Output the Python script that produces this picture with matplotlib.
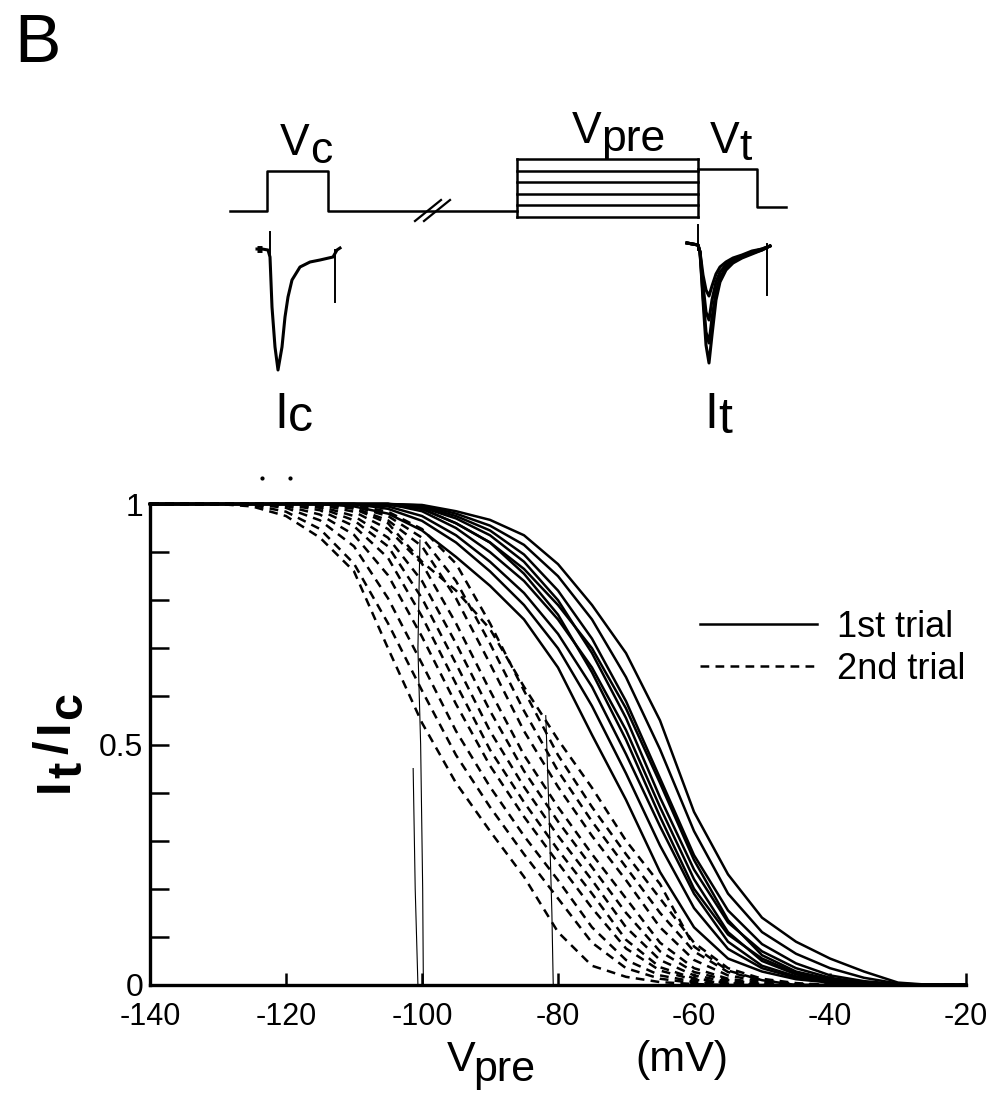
import matplotlib
matplotlib.use('Agg')
import matplotlib.pyplot as plt
from matplotlib.ticker import MultipleLocator

plt.rcParams['font.family'] = ['Liberation Sans', 'DejaVu Sans']
plt.rcParams['axes.unicode_minus'] = False

W, H = 993, 1094

# prepulse voltage grid (mV), shared by every inactivation curve
vpre = [-140, -135, -130, -125, -120, -115, -110, -105, -100, -95, -90, -85, -80,
        -75, -70, -65, -60, -55, -50, -45, -40, -35, -30, -25, -20]

# 1st trial (solid), It/Ic
trial1 = [
    [1, 1, 1, 1, 1, 1, 0.995, 0.98, 0.945, 0.89, 0.83, 0.76, 0.66, 0.52, 0.385, 0.235, 0.12, 0.055, 0.028, 0.012, 0.005, 0, 0, 0, 0],
    [1, 1, 1, 1, 1, 1, 1, 0.99, 0.965, 0.92, 0.86, 0.79, 0.70, 0.58, 0.44, 0.29, 0.16, 0.075, 0.035, 0.015, 0.006, 0, 0, 0, 0],
    [1, 1, 1, 1, 1, 1, 1, 0.995, 0.975, 0.935, 0.88, 0.815, 0.73, 0.62, 0.48, 0.33, 0.19, 0.09, 0.04, 0.018, 0.007, 0.002, 0, 0, 0],
    [1, 1, 1, 1, 1, 1, 1, 1, 0.985, 0.95, 0.9, 0.84, 0.76, 0.66, 0.53, 0.37, 0.22, 0.11, 0.05, 0.022, 0.009, 0.003, 0, 0, 0],
    [1, 1, 1, 1, 1, 1, 1, 1, 0.99, 0.96, 0.92, 0.865, 0.79, 0.70, 0.575, 0.42, 0.26, 0.135, 0.062, 0.028, 0.012, 0.004, 0, 0, 0],
    [1, 1, 1, 1, 1, 1, 1, 0.998, 0.99, 0.96, 0.92, 0.855, 0.77, 0.65, 0.51, 0.35, 0.2, 0.105, 0.055, 0.025, 0.01, 0.003, 0, 0, 0],
    [1, 1, 1, 1, 1, 1, 1, 1, 0.993, 0.97, 0.935, 0.88, 0.80, 0.69, 0.555, 0.39, 0.24, 0.13, 0.07, 0.035, 0.015, 0.005, 0, 0, 0],
    [1, 1, 1, 1, 1, 1, 1, 1, 0.995, 0.975, 0.945, 0.895, 0.82, 0.72, 0.59, 0.43, 0.27, 0.155, 0.085, 0.045, 0.02, 0.008, 0.002, 0, 0],
    [1, 1, 1, 1, 1, 1, 1, 1, 0.997, 0.98, 0.955, 0.915, 0.85, 0.76, 0.64, 0.49, 0.32, 0.19, 0.11, 0.065, 0.035, 0.015, 0.003, 0, 0],
    [1, 1, 1, 1, 1, 1, 1, 1, 0.998, 0.985, 0.967, 0.935, 0.875, 0.79, 0.69, 0.55, 0.36, 0.23, 0.14, 0.09, 0.055, 0.028, 0.005, 0, 0],
]

# 2nd trial (dashed)
trial2 = [
    [1, 1, 1, 0.995, 0.975, 0.93, 0.86, 0.70, 0.545, 0.42, 0.32, 0.225, 0.11, 0.04, 0.017, 0.006, 0.002, 0, 0, 0, 0, 0, 0, 0, 0],
    [1, 1, 1, 0.998, 0.984, 0.948, 0.876, 0.752, 0.612, 0.478, 0.37, 0.272, 0.18, 0.088, 0.035, 0.013, 0.004, 0, 0, 0, 0, 0, 0, 0, 0],
    [1, 1, 1, 1, 0.992, 0.966, 0.912, 0.804, 0.668, 0.528, 0.412, 0.31, 0.218, 0.12, 0.052, 0.02, 0.007, 0.001, 0, 0, 0, 0, 0, 0, 0],
    [1, 1, 1, 1, 0.996, 0.978, 0.936, 0.852, 0.724, 0.584, 0.456, 0.35, 0.254, 0.16, 0.076, 0.03, 0.011, 0.003, 0, 0, 0, 0, 0, 0, 0],
    [1, 1, 1, 1, 0.999, 0.987, 0.954, 0.888, 0.766, 0.626, 0.489, 0.38, 0.281, 0.19, 0.094, 0.037, 0.014, 0.004, 0, 0, 0, 0, 0, 0, 0],
    [1, 1, 1, 1, 1, 0.992, 0.966, 0.912, 0.804, 0.668, 0.528, 0.412, 0.31, 0.218, 0.12, 0.052, 0.02, 0.007, 0.001, 0, 0, 0, 0, 0, 0],
    [1, 1, 1, 1, 1, 0.995, 0.975, 0.93, 0.84, 0.71, 0.57, 0.445, 0.34, 0.245, 0.15, 0.07, 0.027, 0.01, 0.002, 0, 0, 0, 0, 0, 0],
    [1, 1, 1, 1, 1, 0.998, 0.984, 0.948, 0.876, 0.752, 0.612, 0.478, 0.37, 0.272, 0.18, 0.088, 0.035, 0.013, 0.004, 0, 0, 0, 0, 0, 0],
    [1, 1, 1, 1, 1, 1, 0.992, 0.966, 0.912, 0.804, 0.668, 0.528, 0.412, 0.31, 0.218, 0.12, 0.052, 0.02, 0.007, 0.001, 0, 0, 0, 0, 0],
    [1, 1, 1, 1, 1, 1, 0.995, 0.975, 0.93, 0.84, 0.71, 0.57, 0.445, 0.34, 0.245, 0.15, 0.07, 0.027, 0.01, 0.002, 0, 0, 0, 0, 0],
    [1, 1, 1, 1, 1, 1, 0.998, 0.984, 0.948, 0.876, 0.752, 0.612, 0.478, 0.37, 0.272, 0.18, 0.088, 0.035, 0.013, 0.004, 0, 0, 0, 0, 0],
    [1, 1, 1, 1, 1, 1, 0.99, 0.96, 0.88, 0.82, 0.74, 0.62, 0.51, 0.41, 0.30, 0.21, 0.08, 0.03, 0.01, 0, 0, 0, 0, 0, 0],
]

# thin stray traces in the scan
stray_v = [[-100.3, -100.6, -100.2, -99.9, -99.8], [-101.3, -101.0, -100.6], [-81.8, -81.3, -80.9, -80.7]]
stray_f = [[0.925, 0.7, 0.5, 0.2, 0.0], [0.45, 0.2, 0.0], [0.56, 0.35, 0.15, 0.0]]
dots_v = [-123.5, -119.4]
dots_f = [1.055, 1.055]

xticks = [-140, -120, -100, -80, -60, -40, -20]

# voltage protocol sketch (figure pixels, y down)
vc_x = [230, 267, 267, 328, 328, 517]
vc_y = [211, 211, 171, 171, 211, 211]
brk_x = [[415, 441], [424, 450]]
brk_y = [[221, 200], [221, 200]]
box_x = [517, 698]
box_levels = [159, 170.6, 182.2, 193.8, 205.4, 217]
vt_x = [698, 757, 757, 786]
vt_y = [169, 169, 207, 207]

# current traces
ic_x = [257, 262, 268, 270, 272, 275, 278, 282, 285, 288, 292, 300, 310, 320, 333, 337, 340]
ic_y = [249, 249, 250, 257, 307, 347, 370, 347, 317, 297, 280, 267, 262, 260, 257, 250, 248]
it_x = [687, 698, 700, 703, 706, 709, 712, 716, 720, 726, 733, 742, 752, 762, 770]
it_ys = [
    [243, 245, 252, 300, 345, 363, 335, 300, 282, 270, 263, 258, 254, 250, 246],
    [243, 245, 252, 295, 332, 343, 318, 292, 277, 268, 262, 257, 253, 250, 246],
    [243, 245, 252, 285, 312, 320, 300, 282, 272, 265, 260, 256, 252, 249, 246],
    [243, 245, 252, 275, 290, 296, 286, 274, 267, 262, 258, 255, 251, 249, 246],
]
artifact_x = [[270, 270], [335, 335], [698, 698], [767, 767]]
artifact_y = [[232, 258], [250, 302], [225, 250], [244, 295]]

fig = plt.figure(figsize=(W / 100, H / 100), dpi=100)

# sketch layer
sk = fig.add_axes([0, 0, 1, 1])
sk.set_xlim(0, W)
sk.set_ylim(H, 0)
sk.axis('off')
lw_s = 1.8
sk.plot(vc_x, vc_y, 'k-', lw=lw_s)
for bx, by in zip(brk_x, brk_y):
    sk.plot(bx, by, 'k-', lw=1.6)
for lev in box_levels:
    sk.plot(box_x, [lev, lev], 'k-', lw=lw_s)
for bx in box_x:
    sk.plot([bx, bx], [box_levels[0], box_levels[-1]], 'k-', lw=lw_s)
sk.plot(vt_x, vt_y, 'k-', lw=lw_s)
sk.plot(ic_x, ic_y, 'k-', lw=2.2)
sk.plot(ic_x[:2], ic_y[:2], 'k-', lw=5, solid_capstyle='butt')
for ys in it_ys:
    sk.plot(it_x, ys, 'k-', lw=2.2)
for ax_, ay_ in zip(artifact_x, artifact_y):
    sk.plot(ax_, ay_, 'k-', lw=1.4)

# main plot
ax = fig.add_axes([150 / W, 1 - 985 / H, 816 / W, 481 / H])
ax.set_xlim(-140, -20)
ax.set_ylim(0, 1)

lw = 1.8
for i, f in enumerate(trial1):
    ax.plot(vpre, f, color='black', lw=lw, clip_on=False,
            label='1st trial' if i == 0 else None)
for i, f in enumerate(trial2):
    ax.plot(vpre, f, color='black', lw=lw, ls=(0, (3.5, 2.5)), clip_on=False,
            label='2nd trial' if i == 0 else None)
for sv, sf in zip(stray_v, stray_f):
    ax.plot(sv, sf, color='black', lw=0.8)
ax.plot(dots_v, dots_f, 'k.', ms=4, clip_on=False)

for s in ['top', 'right']:
    ax.spines[s].set_visible(False)
for s in ['left', 'bottom']:
    ax.spines[s].set_linewidth(2.4)

ax.set_xticks(xticks)
ax.set_xticklabels([str(t) for t in xticks])
ax.set_yticks([0, 0.5, 1])
ax.set_yticklabels(['0', '0.5', '1'])
ax.yaxis.set_minor_locator(MultipleLocator(0.1))
ax.tick_params(axis='x', direction='in', length=9, width=1.8, labelsize=22, pad=12)
ax.tick_params(axis='y', which='both', direction='in', length=14, width=1.8, labelsize=23, pad=5)

ax.legend(loc='upper left', bbox_to_anchor=(0.674, 0.78), frameon=False, fontsize=26,
          handlelength=3.25, handletextpad=0.55, labelspacing=0.2, borderpad=0, borderaxespad=0)

renderer = fig.canvas.get_renderer()


def label_parts(parts, x, y, size, rotation=0, weight='normal'):
    # parts: (text, drop in px, gap before in px); x, y in figure pixels, y down
    for s, drop, gap in parts:
        if rotation == 0:
            x += gap
            t = fig.text(x / W, 1 - (y + drop) / H, s, fontsize=size, fontweight=weight,
                         ha='left', va='baseline')
            x += t.get_window_extent(renderer).width
        else:
            y -= gap
            t = fig.text((x + drop) / W, 1 - y / H, s, fontsize=size, fontweight=weight,
                         rotation=90, rotation_mode='anchor', ha='left', va='baseline')
            y -= t.get_window_extent(renderer).height


label_parts([('V', 0, 0), ('pre', 10, -2), ('(mV)', 0, 100)], 447, 1071, 31)
label_parts([('I', 0, 0), ('t', 13, 0), ('/', 0, 8), ('I', 0, 8), ('c', 13, 0)], 68, 792, 35,
            rotation=90, weight='bold')

label_parts([('V', 0, 0), ('c', 8, 0)], 280, 155, 32)
label_parts([('V', 0, 0), ('pre', 8, 0)], 572, 143, 32)
label_parts([('V', 0, 0), ('t', 7, 0)], 710, 153, 32)
label_parts([('I', 0, 0), ('c', 3, 0)], 274, 428, 36)
label_parts([('I', 0, 0), ('t', 5, 0)], 704, 428, 36)

fig.text(14 / W, 1 - 62 / H, 'B', fontsize=50, ha='left', va='baseline')

fig.savefig('out.png', dpi=100)
